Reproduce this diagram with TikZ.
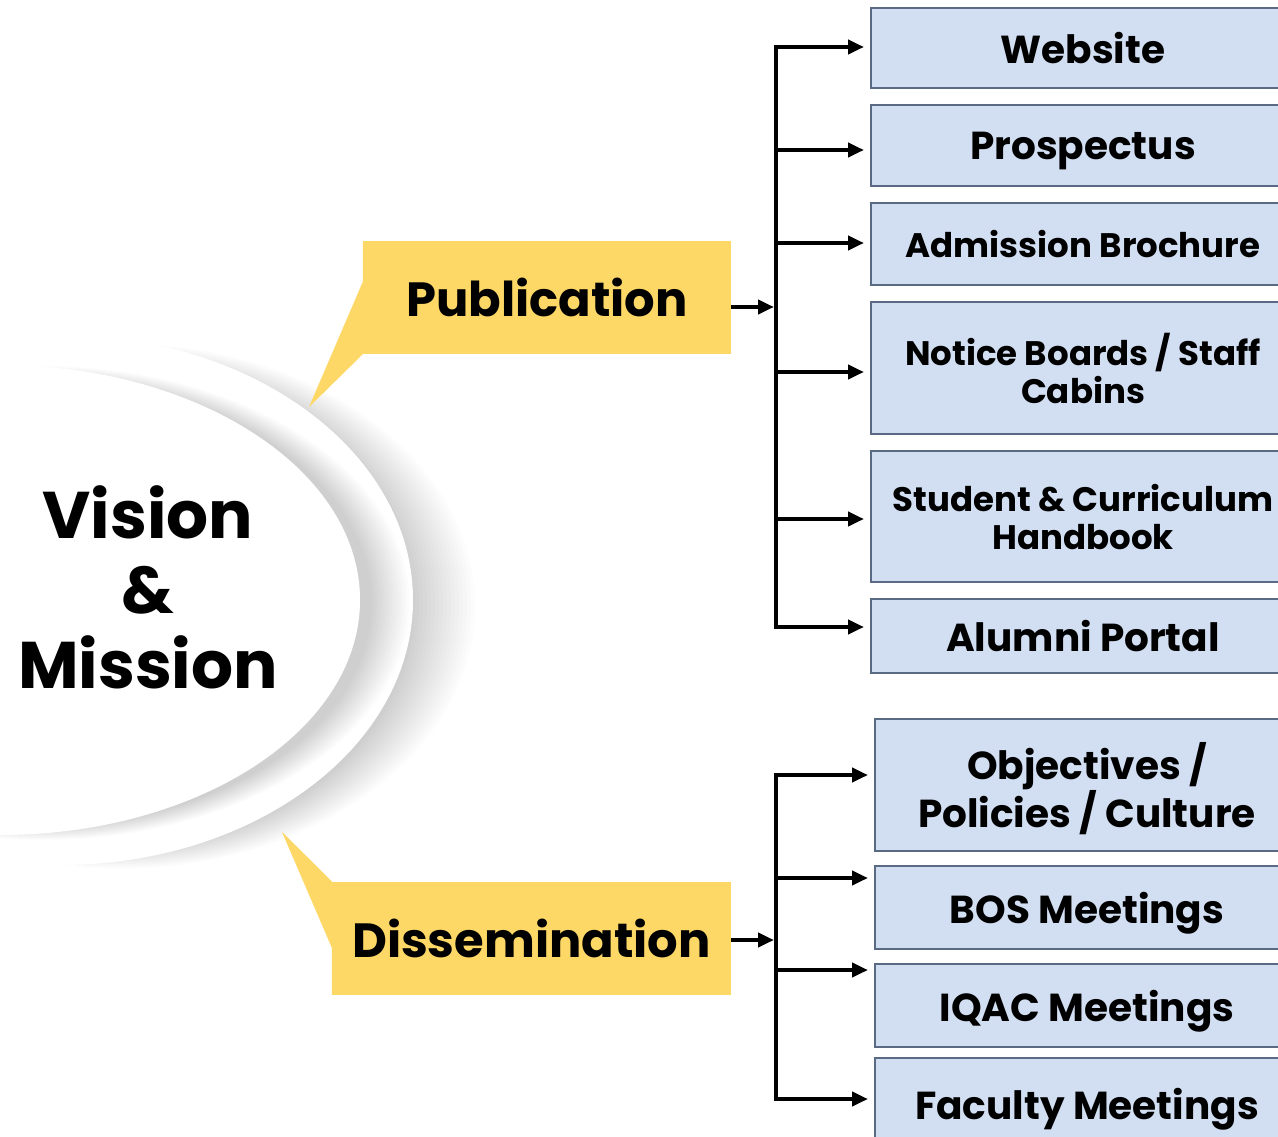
\documentclass[tikz,border=0pt]{standalone}
\usepackage{fontspec}
\setmainfont{Poppins}
\usetikzlibrary{positioning,arrows.meta}
\definecolor{callout}{RGB}{253,216,102}
\definecolor{itemfill}{RGB}{210,222,242}
\definecolor{itemline}{RGB}{90,106,133}
\newcommand{\bigitem}{\fontsize{39}{42}\selectfont\bfseries}
\newcommand{\smallitem}{\fontsize{34}{38}\selectfont\bfseries}

\begin{document}
\begin{tikzpicture}[x=1pt,y=-1pt,node distance=15pt,
  item/.style={draw=itemline,line width=2pt,fill=itemfill,minimum width=424pt,
    align=center,inner sep=0pt,text depth=0pt,font=\smallitem},
  bubble/.style={fill=callout,inner sep=0pt,minimum height=113pt,
    font=\fontsize{48}{48}\selectfont\bfseries},
  arr/.style={-{Triangle[length=16pt,width=14pt]},line width=4pt,shorten >=6pt},
  trunk/.style={line width=4pt,line cap=rect}]
\path[use as bounding box,fill=white] (0,0) rectangle (1278,1137);
\clip (0,0) rectangle (1278,1137);

% soft rings behind the title
\foreach \i in {0,...,15}
  \fill[black,opacity=0.013] (120,606) ellipse ({295+\i*4} and {240+\i*1.5});
\fill[white] (60,600) ellipse (353 and 265);
\foreach \i in {0,...,15}
  \fill[black,opacity=0.012] (42,603) ellipse ({330+\i*2.5} and {222+\i});
\fill[white] (0,600) ellipse (360 and 235);

\node[font=\fontsize{66}{75}\selectfont\bfseries,align=center] (vm) at (148,587)
  {Vision\\\&\\Mission};

% callouts
\node[bubble,minimum width=368pt] (pub) at (547,297.5) {Publication};
\node[bubble,minimum width=399pt] (dis) at (531.5,938) {Dissemination};
\coordinate (pubtip) at (309,407);
\coordinate (distip) at (282,832);
\fill[callout] (pub.north west) -- ([yshift=-41pt]pub.north west) -- (pubtip)
  -- (pub.south west) -- cycle;
\fill[callout] (dis.south west) -- ([yshift=47pt]dis.south west) -- (distip)
  -- (dis.north west) -- cycle;

% publication column
\node[item,minimum height=80pt,font=\bigitem] (web) at (1083,48) {Website};
\node[item,minimum height=81pt,font=\bigitem] (pros) [below=of web] {Prospectus};
\node[item,minimum height=82pt] (adm) [below=of pros] {Admission Brochure};
\node[item,minimum height=132pt] (notice) [below=of adm] {Notice Boards / Staff\\Cabins};
\node[item,minimum height=131pt] (hand) [below=of notice] {Student \& Curriculum\\Handbook};
\node[item,minimum height=74pt,font=\bigitem] (alum) [below=of hand] {Alumni Portal};

% dissemination column
\node[item,minimum height=132pt,font=\bigitem] (obj) at (1087,785) {Objectives /\\Policies / Culture};
\node[item,minimum height=83pt,font=\bigitem] (bos) [below=13pt of obj] {BOS Meetings};
\node[item,minimum height=83pt,font=\bigitem] (iqac) [below=13pt of bos] {IQAC Meetings};
\node[item,minimum height=92pt,font=\bigitem] (fac) [below=9pt of iqac] {Faculty Meetings};

\coordinate (pubbus) at (776,307);
\coordinate (disbus) at (776,940);
\draw[arr,shorten >=2pt] (pub.east |- pubbus) -- (pubbus);
\draw[arr,shorten >=2pt] (dis.east |- disbus) -- (disbus);

\foreach \b/\dy in {web/1,pros/-4.5,adm/1,notice/-4,hand/-2.5,alum/9}
  \coordinate (\b-in) at ([yshift=\dy pt]\b.west);
\foreach \b/\dy in {obj/10,bos/29.5,iqac/35.5,fac/5}
  \coordinate (\b-in) at ([yshift=\dy pt]\b.west);

\draw[trunk] (pubbus |- web-in) -- (pubbus |- alum-in);
\draw[trunk] (disbus |- obj-in) -- (disbus |- fac-in);
\foreach \b in {web,pros,adm,notice,hand,alum}
  \draw[arr] (pubbus |- \b-in) -- (\b-in);
\foreach \b in {obj,bos,iqac,fac}
  \draw[arr] (disbus |- \b-in) -- (\b-in);
\end{tikzpicture}
\end{document}
